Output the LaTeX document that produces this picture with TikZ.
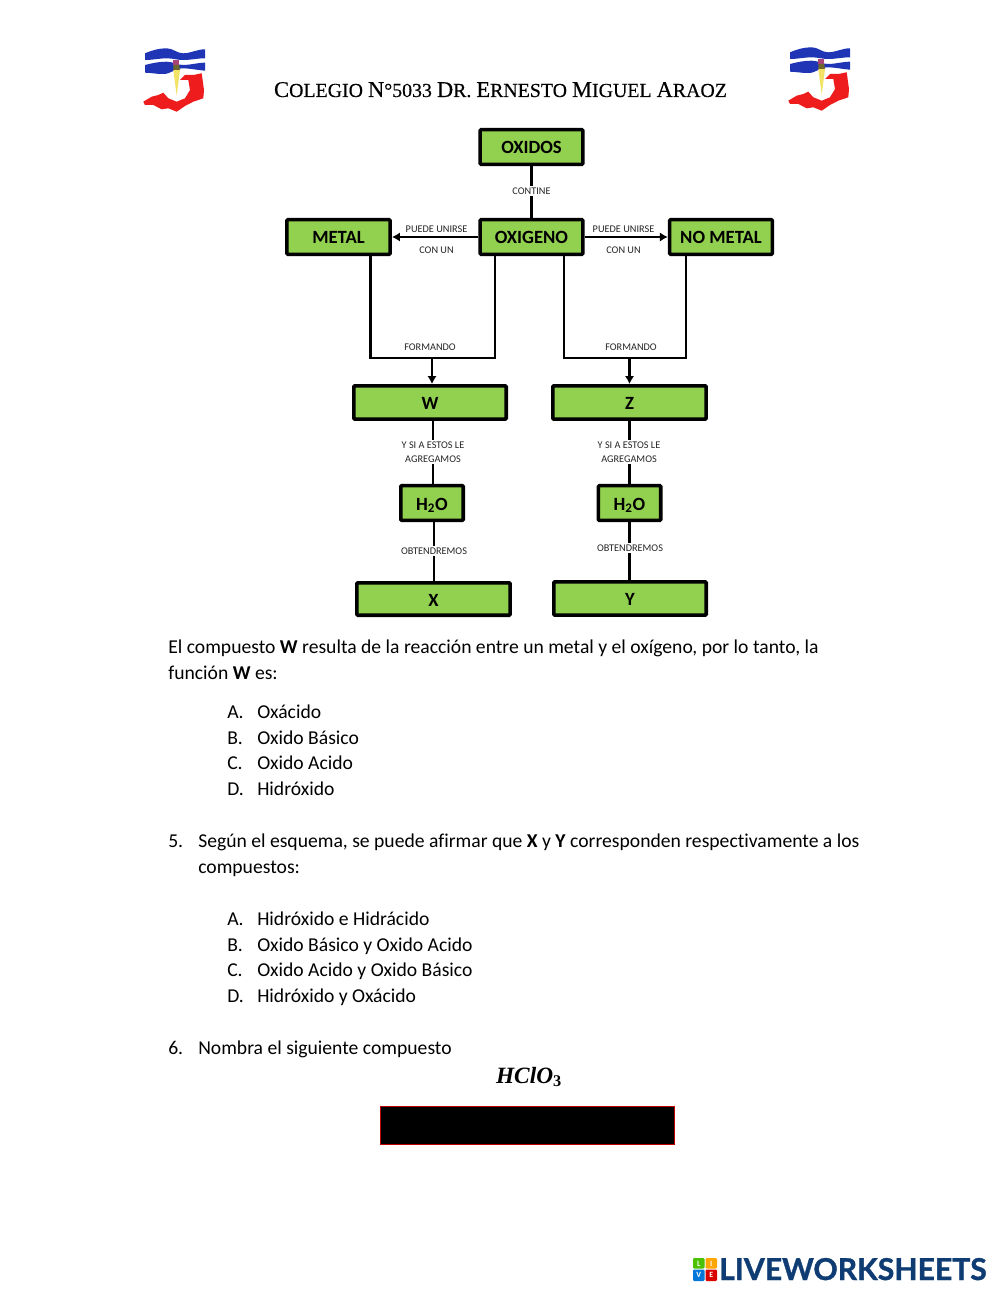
\documentclass[tikz,border=0pt]{standalone}
\usepackage{fontspec}
\setmainfont{Carlito}[Ligatures=NoCommon]
\newfontfamily\headfont{Liberation Serif}[FakeBold=0.35]
\newfontfamily\formfont{Liberation Serif}
\newfontfamily\brandfont{Lato}[FakeBold=1.2]
\usetikzlibrary{arrows.meta}
\definecolor{boxgreen}{HTML}{92D050}
\definecolor{lwblue}{HTML}{0F3D73}
\definecolor{logoblue}{HTML}{1F35B5}
\definecolor{logored}{HTML}{EE1C1C}
\definecolor{logoyel}{HTML}{F2E265}
\definecolor{logopink}{HTML}{A8447A}
\newcommand{\hc}[1]{{\fontsize{16.9}{18}\selectfont #1}}
\tikzset{
  x=0.75pt,y=-0.75pt,
  gbox/.style={draw=black,line width=2.7pt,fill=boxgreen,rounded corners=0.8pt,inner sep=0pt,text height=10.5pt,text depth=0pt,font=\fontsize{14}{14}\bfseries\selectfont},
  link/.style={draw=black,line width=2.2pt},
  tiplink/.style={link,-{Latex[length=6pt,width=7pt]}},
  lbl/.style={font=\fontsize{7.7}{8}\selectfont,text=black!85,inner sep=0pt,align=center},
  lblbg/.style={lbl,fill=white,inner ysep=1.5pt,inner xsep=1pt},
  body/.style={anchor=base west,inner sep=0pt,font=\fontsize{14.72}{14}\selectfont},
  logo/.pic={
    \fill[logoblue] (2,6.3) .. controls (10,3) and (16,1.3) .. (23.7,1.3) .. controls (30,1.3) and (34,6.3) .. (40,6.3) .. controls (48,6.3) and (54,2.3) .. (62,2.3)
       -- (62,11.3) .. controls (54,11.3) and (48,13) .. (40,13) .. controls (34,13) and (30,11.3) .. (23.7,11.3) .. controls (16,11.3) and (10,13) .. (2,13) -- cycle;
    \fill[logoblue] (2,18) .. controls (10,16) and (16,14.7) .. (23.7,14.7) .. controls (30,14.7) and (34,18) .. (40,18) .. controls (48,18) and (54,15.7) .. (62,15.7)
       -- (62,23.7) .. controls (54,23) and (46,21.3) .. (40,21.3) .. controls (32,21.3) and (28,27) .. (20.3,27) .. controls (12,27) and (8,25.7) .. (2,25.7) -- cycle;
    \fill[logored] (0.3,54.7) -- (8.7,49.7) -- (15.3,48) -- (20.3,45.7) -- (25.3,51.3) -- (33.7,54.7) -- (42,51.3) -- (47,43) -- (45.3,33) -- (37,33) -- (42,28) -- (50.3,28) -- (58.7,26.3) -- (61,43) -- (60.3,51.3) -- (50.3,54.7) -- (42,59) -- (33.7,64.7) -- (25.3,61.3) -- (18.7,62.3) -- (10.3,58) -- (2,58) -- cycle;
    \fill[logoyel] (30.3,23) -- (37,23) -- (33.7,48.7) -- cycle;
    \fill[logopink] (30.3,13) -- (36.3,13) -- (36.3,18) -- (30.3,18) -- cycle;
    \fill[black!55!logoyel] (30.3,18) -- (36.3,18) -- (36.8,23) -- (30.3,23) -- cycle;
  }
}
\begin{document}
\begin{tikzpicture}
\useasboundingbox[fill=white] (0,0) rectangle (1000,1294);
% logos
\pic (logoa) at (143,47) {logo};
\pic (logob) at (788,46) {logo};
% heading
\node[anchor=base,inner sep=0pt,font=\headfont\fontsize{14.9}{14}\selectfont] (head) at (500.5,97)
  {\hc{C}OLEGIO \hc{N}°5033 \hc{D}R. \hc{E}RNESTO \hc{M}IGUEL \hc{A}RAOZ};
% boxes
\node[gbox,minimum width=77pt,minimum height=26pt] (oxidos) at (531.5,147) {OXIDOS};
\node[gbox,minimum width=77pt,minimum height=26pt] (oxigeno) at (531.5,237) {OXIGENO};
\node[gbox,minimum width=77.5pt,minimum height=26pt] (metal) at (338.5,237) {METAL};
\node[gbox,minimum width=77pt,minimum height=26pt] (nometal) at (721,237) {NO METAL};
\node[gbox,minimum width=114.3pt,minimum height=25pt] (w) at (430,402.5) {W};
\node[gbox,minimum width=115pt,minimum height=25pt] (z) at (629.5,402.5) {Z};
\node[gbox,minimum width=46.8pt,minimum height=26pt] (wa) at (432,503) {H\textsubscript{2}O};
\node[gbox,minimum width=46.8pt,minimum height=26pt] (wb) at (629.5,503) {H\textsubscript{2}O};
\node[gbox,minimum width=115pt,minimum height=24.3pt] (x) at (433.5,599) {X};
\node[gbox,minimum width=114.3pt,minimum height=25pt] (y) at (630,598.5) {Y};
% connectors
\coordinate (mdown) at (370.7,358);
\coordinate (oleft) at (495,358);
\coordinate (oright) at (564,358);
\coordinate (ndown) at (686,358);
\coordinate (wjoin) at (432,358);
\coordinate (zjoin) at (629.5,358);
\coordinate (wdrop) at (433,450);
\coordinate (xdrop) at (434,550);
\draw[link] (oxidos.south) -- (oxigeno.north);
\draw[tiplink] (oxigeno.west) -- (metal.east);
\draw[tiplink] (oxigeno.east) -- (nometal.west);
\draw[link,line join=miter] (metal.south -| mdown) -- (mdown) -- (oleft) -- (oxigeno.south -| oleft);
\draw[link,line join=miter] (oxigeno.south -| oright) -- (oright) -- (ndown) -- (nometal.south -| ndown);
\draw[tiplink] (wjoin) -- (w.north -| wjoin);
\draw[tiplink] (zjoin) -- (z.north -| zjoin);
\draw[link] (w.south -| wdrop) -- (wa.north -| wdrop);
\draw[link] (z.south -| wb.north) -- (wb.north);
\draw[link] (wa.south -| xdrop) -- (x.north -| xdrop);
\draw[link] (wb.south) -- (y.north -| wb.south);
% connector labels
\node[lblbg] (lcont) at (531.5,191) {CONTINE};
\node[lbl] (lpa) at (436.5,229) {PUEDE UNIRSE};
\node[lbl] (lca) at (436.5,250) {CON UN};
\node[lbl] (lpb) at (623.5,229) {PUEDE UNIRSE};
\node[lbl] (lcb) at (623.5,250) {CON UN};
\node[lbl] (lfa) at (430,347) {FORMANDO};
\node[lbl] (lfb) at (631,347) {FORMANDO};
\node[lblbg,font=\fontsize{7.7}{10.4}\selectfont] (lya) at (433,452) {Y SI A ESTOS LE\\AGREGAMOS};
\node[lblbg,font=\fontsize{7.7}{10.4}\selectfont] (lyb) at (629,452) {Y SI A ESTOS LE\\AGREGAMOS};
\node[lblbg] (loa) at (434,551) {OBTENDREMOS};
\node[lblbg] (lob) at (630,548) {OBTENDREMOS};
% body text
\node[body] (t1) at (168,653.5) {El compuesto \textbf{W} resulta de la reacción entre un metal y el oxígeno, por lo tanto, la};
\node[body] (t2) at (168,679.5) {función \textbf{W} es:};
\node[body] (a1) at (227,718.5) {A.};
\node[body] (a1t) at (257,718.5) {Oxácido};
\node[body] (a2) at (227,744.5) {B.};
\node[body] (a2t) at (257,744.5) {Oxido Básico};
\node[body] (a3) at (227,769.5) {C.};
\node[body] (a3t) at (257,769.5) {Oxido Acido};
\node[body] (a4) at (227,795.5) {D.};
\node[body] (a4t) at (257,795.5) {Hidróxido};
\node[body] (q5) at (168,847.5) {5.};
\node[body] (q5t) at (198,847.5) {Según el esquema, se puede afirmar que \textbf{X} y \textbf{Y} corresponden respectivamente a los};
\node[body] (q5u) at (198,873.5) {compuestos:};
\node[body] (b1) at (227,925.5) {A.};
\node[body] (b1t) at (257,925.5) {Hidróxido e Hidrácido};
\node[body] (b2) at (227,951.5) {B.};
\node[body] (b2t) at (257,951.5) {Oxido Básico y Oxido Acido};
\node[body] (b3) at (227,976.5) {C.};
\node[body] (b3t) at (257,976.5) {Oxido Acido y Oxido Básico};
\node[body] (b4) at (227,1002.5) {D.};
\node[body] (b4t) at (257,1002.5) {Hidróxido y Oxácido};
\node[body] (q6) at (168,1054.5) {6.};
\node[body] (q6t) at (198,1054.5) {Nombra el siguiente compuesto};
\node[anchor=base,inner sep=0pt,font=\formfont\bfseries\itshape\fontsize{17.5}{16}\selectfont] (form) at (529,1083) {HClO\textsubscript{\upshape 3}};
\node[draw=red!75!black,line width=0.6pt,fill=black,minimum width=221pt,minimum height=29pt,inner sep=0pt] (answer) at (527.5,1125.5) {};
% brand
\fill[green!65!black!70!yellow,rounded corners=0.8pt] (693,1258) rectangle (704.5,1268.5);
\fill[orange!70!yellow,rounded corners=0.8pt] (705.5,1258) rectangle (717,1268.5);
\fill[blue!45!cyan!85!black,rounded corners=0.8pt] (693,1269.5) rectangle (704.5,1281);
\fill[red!85!black,rounded corners=0.8pt] (705.5,1269.5) rectangle (717,1281);
\node[font=\bfseries\fontsize{6}{6}\selectfont,text=white,inner sep=0pt] (ll) at (698.75,1263.5) {L};
\node[font=\bfseries\fontsize{6}{6}\selectfont,text=white,inner sep=0pt] (li) at (711.25,1263.5) {I};
\node[font=\bfseries\fontsize{6}{6}\selectfont,text=white,inner sep=0pt] (lv) at (698.75,1275) {V};
\node[font=\bfseries\fontsize{6}{6}\selectfont,text=white,inner sep=0pt] (le) at (711.25,1275) {E};
\node[anchor=base west,inner sep=0pt,font=\brandfont\bfseries\fontsize{22.6}{22}\selectfont,text=lwblue] (brand) at (719,1280) {LIVEWORKSHEETS};
\end{tikzpicture}
\end{document}
